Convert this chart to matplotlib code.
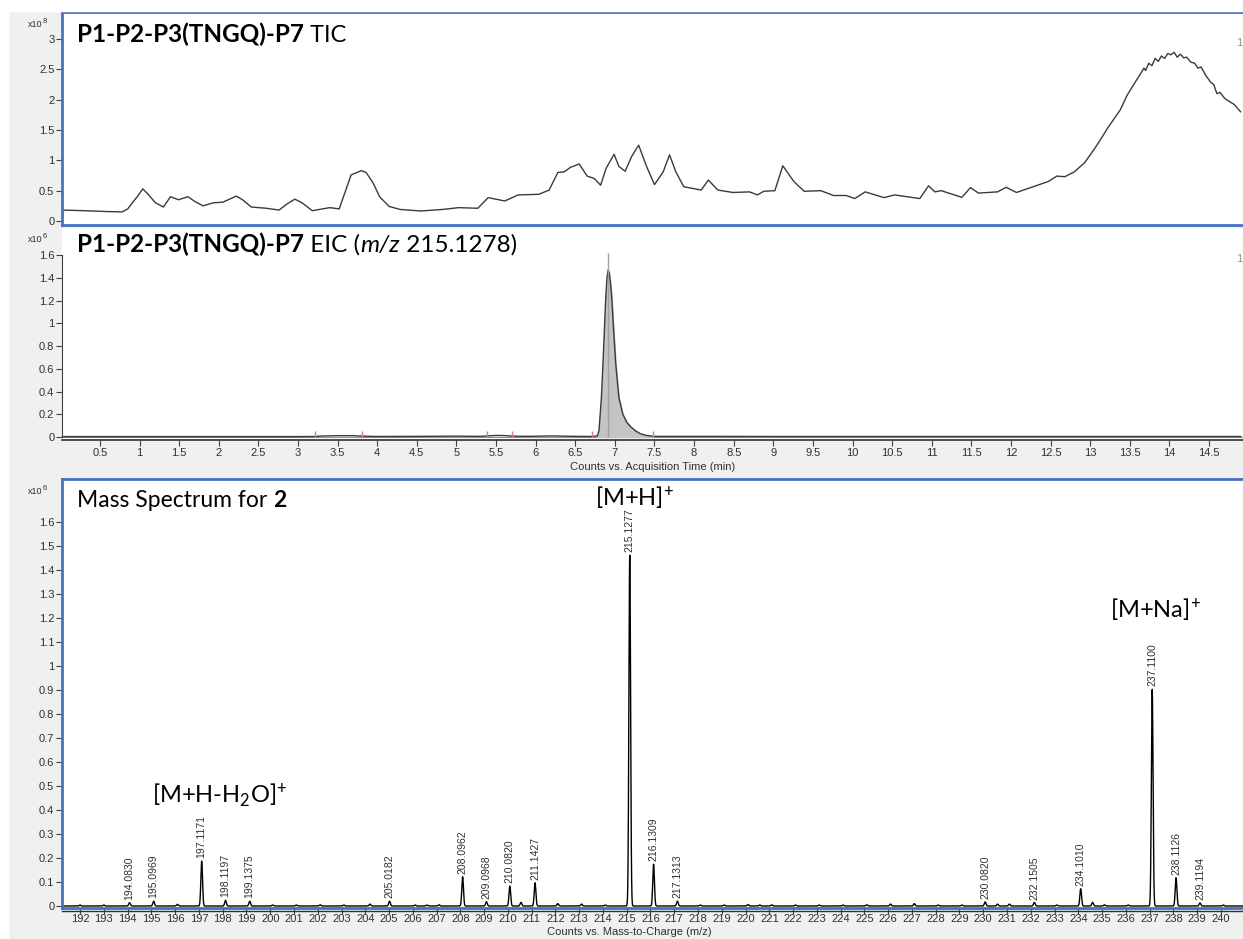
import matplotlib
matplotlib.use("Agg")
import matplotlib.pyplot as plt
import numpy as np
from matplotlib.patches import Rectangle
from matplotlib.lines import Line2D
import matplotlib.transforms as mtransforms

W, H = 1243, 939
TITLE_FONT = ['Lato', 'DejaVu Sans']
TICK_FONT = ['Liberation Sans Narrow', 'Liberation Sans', 'DejaVu Sans']
plt.rcParams['mathtext.fontset'] = 'custom'
plt.rcParams['mathtext.rm'] = 'Lato'
plt.rcParams['mathtext.it'] = 'Lato:italic'
plt.rcParams['mathtext.bf'] = 'Lato:bold'

# ---------------- data ----------------
tic_time = [0.02, 0.3, 0.6, 0.78, 0.85, 0.92, 0.97, 1.04, 1.1, 1.2, 1.3, 1.39, 1.49, 1.61, 1.7, 1.8,
            1.93, 2.05, 2.15, 2.22, 2.3, 2.41, 2.6, 2.76, 2.86, 2.96, 3.05, 3.18, 3.4, 3.52, 3.6, 3.67,
            3.8, 3.86, 3.95, 4.03, 4.15, 4.29, 4.55, 4.82, 5.03, 5.27, 5.40, 5.61, 5.78, 6.04, 6.17,
            6.28, 6.36, 6.44, 6.55, 6.65, 6.74, 6.82, 6.89, 6.99, 7.05, 7.13, 7.21, 7.30, 7.40, 7.50,
            7.61, 7.69, 7.77, 7.87, 8.09, 8.18, 8.30, 8.49, 8.70, 8.80, 8.88, 9.02, 9.12, 9.26, 9.39,
            9.60, 9.76, 9.92, 10.03, 10.16, 10.40, 10.53, 10.85, 10.96, 11.04, 11.12, 11.38, 11.49,
            11.59, 11.83, 11.94, 12.07, 12.26, 12.47, 12.58, 12.68, 12.8, 12.93, 13.06, 13.14, 13.22,
            13.30, 13.38, 13.47, 13.56, 13.64, 13.68, 13.7, 13.74, 13.78, 13.82, 13.86, 13.9, 13.94,
            13.98, 14.02, 14.06, 14.1, 14.14, 14.18, 14.22, 14.27, 14.32, 14.36, 14.4, 14.46, 14.52,
            14.56, 14.6, 14.64, 14.7, 14.77, 14.82, 14.9]
tic_int = [0.18, 0.17, 0.155, 0.15, 0.2, 0.32, 0.4, 0.53, 0.45, 0.3, 0.23, 0.4, 0.35, 0.4, 0.32, 0.25,
           0.3, 0.31, 0.37, 0.41, 0.35, 0.23, 0.21, 0.18, 0.28, 0.36, 0.3, 0.17, 0.22, 0.2, 0.5, 0.76,
           0.83, 0.8, 0.62, 0.4, 0.24, 0.19, 0.165, 0.19, 0.22, 0.21, 0.385, 0.33, 0.43, 0.44, 0.51,
           0.80, 0.81, 0.885, 0.94, 0.74, 0.70, 0.59, 0.87, 1.10, 0.90, 0.82, 1.06, 1.25, 0.90, 0.60,
           0.81, 1.09, 0.81, 0.565, 0.51, 0.675, 0.51, 0.47, 0.48, 0.43, 0.49, 0.50, 0.91, 0.65, 0.49,
           0.50, 0.42, 0.42, 0.37, 0.48, 0.385, 0.43, 0.37, 0.58, 0.48, 0.50, 0.39, 0.55,
           0.46, 0.48, 0.555, 0.47, 0.555, 0.65, 0.74, 0.73, 0.81, 0.96, 1.2, 1.36, 1.53,
           1.68, 1.83, 2.08, 2.27, 2.44, 2.52, 2.48, 2.6, 2.56, 2.68, 2.63, 2.72, 2.68,
           2.76, 2.74, 2.78, 2.7, 2.75, 2.69, 2.7, 2.62, 2.6, 2.52, 2.54, 2.4, 2.29,
           2.25, 2.1, 2.12, 2.02, 1.96, 1.92, 1.8]

eic_time = [0.02, 1.0, 2.0, 3.0, 3.21, 3.3, 3.5, 3.7, 3.81, 4.0, 4.5, 5.0, 5.3, 5.39, 5.5, 5.6, 5.7,
            5.9, 6.2, 6.5, 6.71, 6.78, 6.8, 6.83, 6.85, 6.87, 6.885, 6.9, 6.915, 6.93, 6.945, 6.96,
            6.985, 7.01, 7.05, 7.1, 7.15, 7.2, 7.26, 7.32, 7.4, 7.48,
            8.0, 9.0, 10.0, 11.0, 12.0, 13.0, 14.0, 14.9]
eic_int = [0.004, 0.004, 0.004, 0.004, 0.005, 0.009, 0.012, 0.012, 0.008, 0.005, 0.006, 0.008, 0.006,
           0.01, 0.014, 0.013, 0.008, 0.006, 0.01, 0.006, 0.005, 0.01, 0.06, 0.35, 0.65, 0.98, 1.23,
           1.4, 1.47, 1.44, 1.35, 1.23, 0.93, 0.65, 0.35, 0.2, 0.13, 0.09, 0.055, 0.03, 0.014, 0.006,
           0.006, 0.005, 0.005, 0.005, 0.005, 0.005, 0.005, 0.005]
eic_apex = 6.91
eic_fill_range = (6.78, 7.48)
eic_marks = [3.21, 3.81, 5.39, 5.70, 6.71, 7.48]

ms_mz = [194.0830, 195.0969, 197.1171, 198.1197, 199.1375, 205.0182, 208.0962, 209.0968, 210.0820,
         211.1427, 215.1277, 216.1309, 217.1313, 230.0820, 232.1505, 234.1010, 237.1100, 238.1126,
         239.1194]
ms_int = [0.014, 0.02, 0.187, 0.024, 0.02, 0.02, 0.122, 0.018, 0.083, 0.097, 1.462, 0.174, 0.02,
          0.017, 0.015, 0.072, 0.904, 0.118, 0.013]
ms_minor_mz = [192.0, 193.0, 196.1, 200.1, 201.1, 202.1, 203.1, 204.2, 206.1, 206.6, 207.1, 210.55,
               212.1, 213.1, 214.1, 218.1, 219.1, 220.1, 220.6, 221.1, 222.1, 223.1, 224.1, 225.1,
               226.1, 227.1, 228.1, 229.1, 230.6, 231.1, 233.1, 234.6, 235.1, 236.1, 240.1]
ms_minor_int = [0.004, 0.004, 0.007, 0.004, 0.004, 0.005, 0.004, 0.008, 0.004, 0.004, 0.005, 0.015,
                0.01, 0.008, 0.004, 0.004, 0.004, 0.006, 0.004, 0.005, 0.004, 0.004, 0.004, 0.005,
                0.008, 0.01, 0.004, 0.004, 0.008, 0.008, 0.004, 0.015, 0.005, 0.004, 0.004]

tic_yticks = [0, 0.5, 1, 1.5, 2, 2.5, 3]
eic_yticks = [0, 0.2, 0.4, 0.6, 0.8, 1, 1.2, 1.4, 1.6]
eic_xticks = [0.5 * i for i in range(1, 30)]
ms_yticks = [0.1 * i for i in range(0, 17)]
ms_xticks = list(range(192, 241))

# ---------------- figure ----------------
fig = plt.figure(figsize=(W / 100, H / 100), dpi=100, facecolor='#f0f0f0')
fig.patches.append(Rectangle((0, 0), 8 / W, 1, transform=fig.transFigure, color='white', zorder=0))
fig.patches.append(Rectangle((0, 1 - 11 / H), 1, 11 / H, transform=fig.transFigure, color='white', zorder=0))

def rect(l, t, r, b):
    return [l / W, 1 - b / H, (r - l) / W, (b - t) / H]

BLUE = '#4472c4'
TICKC = '#303030'

def fmt(v):
    s = ('%.1f' % v)
    return s[:-2] if s.endswith('.0') else s

def style_ticks(ax):
    for lab in ax.get_xticklabels() + ax.get_yticklabels():
        lab.set_family(TICK_FONT)
        lab.set_fontsize(8)
        lab.set_color(TICKC)
    ax.tick_params(length=4, width=0.8, color='#404040', pad=1.5)

# TIC
ax1 = fig.add_axes(rect(62, 12, 1243, 225))
ax1.plot(tic_time, tic_int, color='#3a3a3a', lw=1.0)
ax1.set_xlim(0.02, 14.93)
ax1.set_ylim(-0.066, 3.445)
ax1.set_yticks(tic_yticks)
ax1.set_yticklabels([fmt(v) for v in tic_yticks])
ax1.set_xticks([])
for s in ['left', 'top', 'bottom']:
    ax1.spines[s].set_color(BLUE)
    ax1.spines[s].set_linewidth(2)
ax1.spines['right'].set_visible(False)
style_ticks(ax1)

# EIC
ax2 = fig.add_axes(rect(62, 228, 1243, 440))
ax2.plot(eic_time, eic_int, color='#3a3a3a', lw=1.0, zorder=3)
et = np.array(eic_time); ei = np.array(eic_int)
m = (et >= eic_fill_range[0]) & (et <= eic_fill_range[1])
ax2.fill_between(et[m], 0, ei[m], color='#c4c4c4', zorder=2)
ax2.vlines([eic_apex], 0, 1.62, color='#a0a0a0', lw=1.0, zorder=4)
ax2.vlines(eic_marks, 0, 0.05, color='#e07a7a', lw=1.0, zorder=4)
ax2.axhline(0, color='#909090', lw=0.8, zorder=1)
ax2.set_xlim(0.02, 14.93)
ax2.set_ylim(-0.026, 1.838)
ax2.set_yticks(eic_yticks)
ax2.set_yticklabels([fmt(v) for v in eic_yticks])
ax2.set_xticks(eic_xticks)
ax2.set_xticklabels([fmt(v) for v in eic_xticks])
ax2.spines['left'].set_bounds(0, 1.6)
ax2.spines['top'].set_visible(False)
ax2.spines['right'].set_visible(False)
ax2.spines['left'].set_color('#404040')
ax2.spines['bottom'].set_color('#303030')
ax2.spines['bottom'].set_linewidth(1.2)
style_ticks(ax2)
ax2.set_xlabel('Counts vs. Acquisition Time (min)', family=TICK_FONT, fontsize=8, color=TICKC, labelpad=0)
ax2.xaxis.set_label_coords(0.5, -0.105)

# MS
ax3 = fig.add_axes(rect(62, 479, 1243, 908))
grid = np.arange(191.0, 241.5, 0.004)
prof = np.zeros_like(grid)
for mz, h in zip(ms_mz + ms_minor_mz, ms_int + ms_minor_int):
    sig = 0.035
    prof += h * np.exp(-0.5 * ((grid - mz) / sig) ** 2)
ax3.plot(grid, prof, color='black', lw=1.0)
for mz, h in zip(ms_mz, ms_int):
    ax3.annotate('%.4f' % mz, xy=(mz, h), xytext=(0, 2), textcoords='offset points',
                 rotation=90, ha='center', va='bottom', family=TICK_FONT, fontsize=7.5, color=TICKC)
ax3.set_xlim(191.24, 240.93)
ax3.set_ylim(-0.0083, 1.779)
ax3.set_yticks(ms_yticks)
ax3.set_yticklabels([fmt(v) for v in ms_yticks])
ax3.set_xticks(ms_xticks)
ax3.set_xticklabels([str(v) for v in ms_xticks])
for s in ['left', 'top', 'bottom']:
    ax3.spines[s].set_color(BLUE)
    ax3.spines[s].set_linewidth(2)
ax3.spines['right'].set_visible(False)
off = mtransforms.ScaledTranslation(0, -3 / 100, fig.dpi_scale_trans)
ax3.add_line(Line2D([0, 1], [0, 0], transform=ax3.transAxes + off, color='#303030', lw=1.0, clip_on=False))
style_ticks(ax3)
ax3.tick_params(axis='x', pad=0.5)
ax3.set_xlabel('Counts vs. Mass-to-Charge (m/z)', family=TICK_FONT, fontsize=8, color=TICKC, labelpad=0)
ax3.xaxis.set_label_coords(0.48, -0.045)

# multiplier labels
for y in [27, 242, 494]:
    fig.text(28 / W, 1 - y / H, r'x10', family=TICK_FONT, fontsize=6.5, color=TICKC, va='baseline')
for y, e in [(27, '8'), (242, '6'), (494, '6')]:
    fig.text(43 / W, 1 - (y - 4) / H, e, family=TICK_FONT, fontsize=5.5, color=TICKC, va='baseline')
for y in [46, 262]:
    fig.text(1236 / W, 1 - y / H, '1', family=TICK_FONT, fontsize=8, color='#909090', va='baseline')

# rich titles
renderer = fig.canvas.get_renderer()
def chain(x0, y, parts):
    x = x0
    for s, kw, size in parts:
        t = fig.text(x / W, 1 - y / H, s, va='baseline', ha='left', fontsize=size, color='black', **kw)
        bb = t.get_window_extent(renderer)
        x += bb.width

B = dict(family=TITLE_FONT, fontweight='bold')
R = dict(family=TITLE_FONT)
I = dict(family=TITLE_FONT, style='italic')
chain(77, 42, [('P1-P2-P3(TNGQ)-P7', B, 17.5), (' TIC', R, 17)])
chain(77, 252, [('P1-P2-P3(TNGQ)-P7', B, 17.5), (' EIC (', R, 17.5), ('m/z', I, 17.5), (' 215.1278)', R, 17.5)])
chain(77, 507, [('Mass Spectrum for ', R, 16.5), ('2', B, 16.5)])

fig.text(595 / W, 1 - 506 / H, r'[M+H]$^{+}$', family=TITLE_FONT, fontsize=17, va='baseline')
fig.text(1110 / W, 1 - 618 / H, r'[M+Na]$^{+}$', family=TITLE_FONT, fontsize=17, va='baseline')
fig.text(152 / W, 1 - 803 / H, r'[M+H-H$_{2}$O]$^{+}$', family=TITLE_FONT, fontsize=17, va='baseline')

fig.savefig('out.png', dpi=100, facecolor=fig.get_facecolor())
